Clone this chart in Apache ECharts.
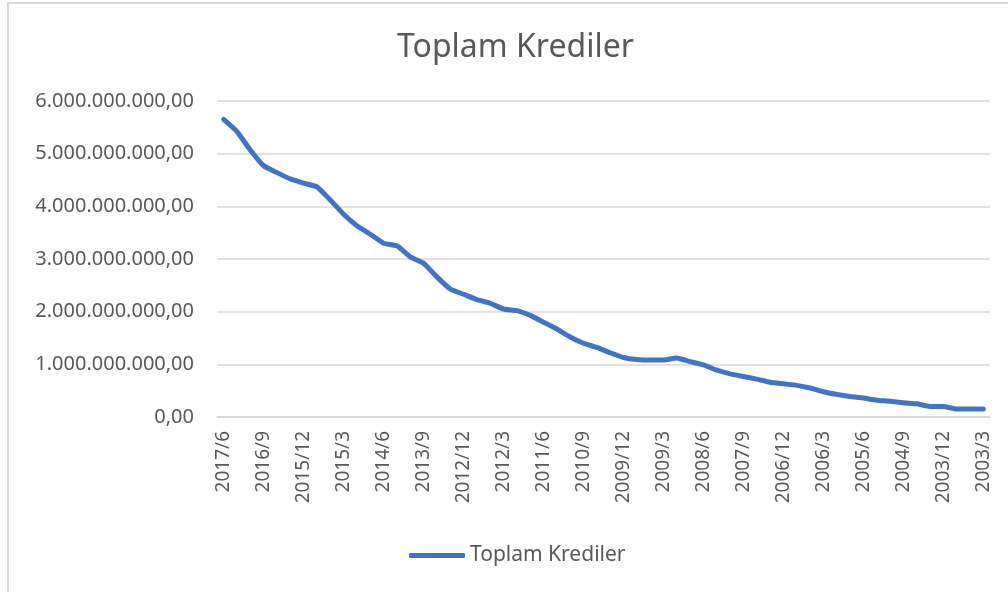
<!DOCTYPE html>
<html>
<head>
<meta charset="utf-8">
<script src="https://cdn.jsdelivr.net/npm/echarts@6/dist/echarts.min.js"></script>
<style>
  html, body {
    margin: 0;
    padding: 0;
    background: #fff;
  }
  .frame {
    position: absolute;
    left: 7px;
    top: 2px;
    width: 1010px;
    height: 600px;
    border: 2px solid #d9d9d9;
  }
  #main {
    position: absolute;
    left: 0;
    top: 0;
    width: 1008px;
    height: 592px;
  }
</style>
</head>
<body>
<div class="frame"></div>
<div id="main"></div>
<script>
// quarterly dates, newest first (as in the source sheet)
var categories = [
  "2017/6", "2017/3", "2016/12", "2016/9", "2016/6", "2016/3",
  "2015/12", "2015/9", "2015/6", "2015/3", "2014/12", "2014/9",
  "2014/6", "2014/3", "2013/12", "2013/9", "2013/6", "2013/3",
  "2012/12", "2012/9", "2012/6", "2012/3", "2011/12", "2011/9",
  "2011/6", "2011/3", "2010/12", "2010/9", "2010/6", "2010/3",
  "2009/12", "2009/9", "2009/6", "2009/3", "2008/12", "2008/9",
  "2008/6", "2008/3", "2007/12", "2007/9", "2007/6", "2007/3",
  "2006/12", "2006/9", "2006/6", "2006/3", "2005/12", "2005/9",
  "2005/6", "2005/3", "2004/12", "2004/9", "2004/6", "2004/3",
  "2003/12", "2003/9", "2003/6", "2003/3"
];

var toplamKrediler = [
  5.65e9, 5.42e9, 5.07e9, 4.77e9, 4.64e9, 4.52e9,
  4.44e9, 4.37e9, 4.12e9, 3.85e9, 3.63e9, 3.47e9,
  3.30e9, 3.25e9, 3.04e9, 2.92e9, 2.66e9, 2.43e9,
  2.33e9, 2.23e9, 2.16e9, 2.05e9, 2.02e9, 1.93e9,
  1.80e9, 1.67e9, 1.52e9, 1.40e9, 1.32e9, 1.22e9,
  1.13e9, 1.09e9, 1.08e9, 1.08e9, 1.12e9, 1.05e9,
  0.99e9, 0.89e9, 0.82e9, 0.77e9, 0.72e9, 0.66e9,
  0.63e9, 0.60e9, 0.55e9, 0.48e9, 0.43e9, 0.39e9,
  0.36e9, 0.32e9, 0.30e9, 0.27e9, 0.25e9, 0.20e9,
  0.20e9, 0.15e9, 0.15e9, 0.15e9
];

var yMin = 0;
var yMax = 6e9;
var yStep = 1e9;

var textColor = "#595959";
var fontName = "'Noto Sans', 'Open Sans', sans-serif";

// 6000000000 -> "6.000.000.000,00"
function trNumber(v) {
  var s = Math.round(v).toString();
  return s.replace(/\B(?=(\d{3})+(?!\d))/g, ".") + ",00";
}

var myChart = echarts.init(document.getElementById("main"));
myChart.setOption({
  animation: false,
  title: {
    text: "Toplam Krediler",
    left: 392,
    top: 27,
    textStyle: {
      color: textColor,
      fontSize: 32,
      fontWeight: "normal",
      fontFamily: fontName,
    },
  },
  legend: {
    data: ["Toplam Krediler"],
    icon: "roundRect",
    left: 404,
    top: 540,
    itemWidth: 56,
    itemHeight: 5,
    textStyle: {
      color: textColor,
      fontSize: 21,
      fontFamily: fontName,
    },
  },
  grid: {
    left: 217,
    right: 18,
    top: 101,
    bottom: 175,
  },
  xAxis: {
    type: "category",
    boundaryGap: true,
    data: categories,
    axisTick: { show: false },
    axisLine: {
      lineStyle: { color: "#d9d9d9", width: 1.5 },
    },
    axisLabel: {
      interval: 2,
      rotate: 90,
      margin: 14,
      color: textColor,
      fontSize: 19,
      fontFamily: fontName,
    },
  },
  yAxis: {
    type: "value",
    min: yMin,
    max: yMax,
    interval: yStep,
    axisLine: { show: false },
    axisTick: { show: false },
    splitLine: {
      lineStyle: { color: "#d9d9d9", width: 1.5 },
    },
    axisLabel: {
      margin: 23,
      color: textColor,
      fontSize: 20,
      fontFamily: fontName,
      formatter: trNumber,
    },
  },
  series: [
    {
      name: "Toplam Krediler",
      type: "line",
      data: toplamKrediler,
      symbol: "none",
      smooth: 0.15,
      lineStyle: {
        color: "#4472c4",
        width: 5,
        cap: "round",
        join: "round",
      },
      itemStyle: { color: "#4472c4" },
    },
  ],
});
</script>
</body>
</html>
